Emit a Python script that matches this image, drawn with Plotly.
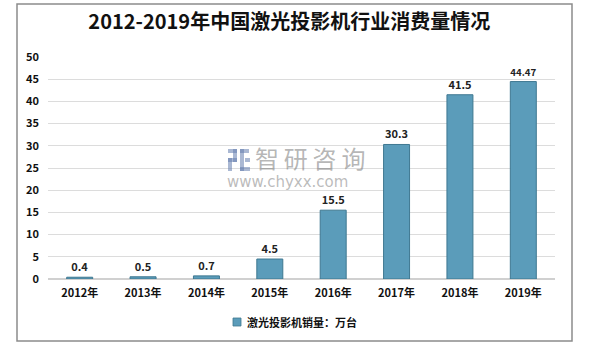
import plotly.graph_objects as go

years = ["2012年", "2013年", "2014年", "2015年", "2016年", "2017年", "2018年", "2019年"]
sales = [0.4, 0.5, 0.7, 4.5, 15.5, 30.3, 41.5, 44.47]
labels = ["0.4", "0.5", "0.7", "4.5", "15.5", "30.3", "41.5", "44.47"]
title = "2012-2019年中国激光投影机行业消费量情况"
series_name = "激光投影机销量：万台"

W, H = 589, 347
L, R, T, B = 48, 34, 57, 68
pw, ph = W - L - R, H - T - B

def px(x):
    return (x - L) / pw

def py(y):
    return (H - B - y) / ph

font = "Noto Sans CJK SC, Microsoft YaHei, sans-serif"

fig = go.Figure()
fig.add_trace(go.Bar(
    x=years, y=sales, name=series_name, showlegend=False,
    text=labels, textposition="outside", cliponaxis=False,
    textfont=dict(family=font, size=11, color="#222222", weight="bold"),
    marker=dict(color="#5b9cba", line=dict(color="#3f7891", width=1)),
    width=0.41,
))

fig.update_layout(
    width=W, height=H,
    margin=dict(l=L, r=R, t=T, b=B),
    paper_bgcolor="white", plot_bgcolor="white",
    title=dict(text="<b>" + title + "</b>", x=px(297), xanchor="center",
               y=1 - 22 / H, yanchor="middle",
               font=dict(family=font, size=20, color="#111111")),
    xaxis=dict(showgrid=False, showline=False, ticks="",
               tickfont=dict(family=font, size=11, color="#111111", weight="bold"),
               ticklabelstandoff=6),
    yaxis=dict(range=[0, 50], dtick=5, showgrid=True, gridcolor="#dcdcdc",
               zeroline=True, zerolinecolor="#d0d0d0", showline=False,
               tickfont=dict(family=font, size=11, color="#111111", weight="bold"),
               ticklabelstandoff=8),
    bargap=0.59,
)

# outer frame
fig.add_shape(type="rect", xref="paper", yref="paper",
              x0=px(17), x1=px(572), y0=py(341), y1=py(4),
              line=dict(color="#8c8c8c", width=1.5), fillcolor="rgba(0,0,0,0)", layer="below")

# legend (custom small square + text)
fig.add_shape(type="rect", xref="paper", yref="paper",
              x0=px(233), x1=px(241), y0=py(326), y1=py(318),
              line=dict(color="#3f7891", width=0.8), fillcolor="#5b9cba")
fig.add_annotation(xref="paper", yref="paper", x=px(245), y=py(322), xanchor="left", yanchor="middle",
                   text="<b>" + series_name + "</b>", showarrow=False,
                   font=dict(family=font, size=11, color="#111111"))

# watermark
fig.add_annotation(xref="paper", yref="paper", x=px(254), y=py(157), xanchor="left", yanchor="middle",
                   text="智\u2009研\u2009咨\u2009询", showarrow=False, borderpad=0,
                   font=dict(family=font, size=24, color="rgba(120,120,120,0.55)"))
fig.add_annotation(xref="paper", yref="paper", x=px(226), y=py(182), xanchor="left", yanchor="middle",
                   text="www.chyxx.com", showarrow=False, borderpad=0,
                   font=dict(family="DejaVu Sans", size=15, color="rgba(120,120,120,0.5)"))
logo = "rgba(100,125,175,0.55)"
for (x0, y0, x1, y1) in [(228, 149, 237, 153), (233, 149, 237, 162), (228, 158, 237, 162),
                         (228, 158, 232, 171), (240, 149, 249, 153), (240, 149, 244, 171),
                         (240, 167, 250, 171), (245, 158, 250, 162)]:
    fig.add_shape(type="rect", xref="paper", yref="paper",
                  x0=px(x0), x1=px(x1), y0=py(y1), y1=py(y0),
                  line=dict(width=0), fillcolor=logo)

fig.write_html("out.html")
